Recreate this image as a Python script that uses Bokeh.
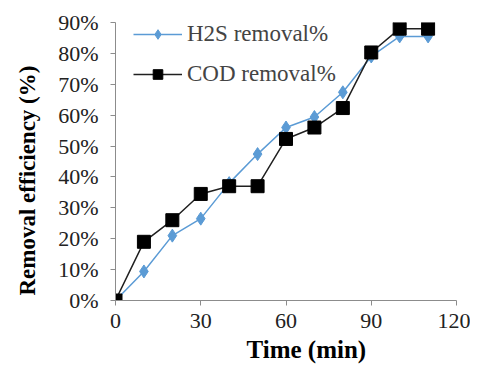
from bokeh.plotting import figure
from bokeh.models import NumeralTickFormatter, FixedTicker, Range1d, Legend, LegendItem, Title
from bokeh.embed import file_html
from bokeh.resources import INLINE

time_min = [0, 10, 20, 30, 40, 50, 60, 70, 80, 90, 100, 110]
h2s_removal = [0.0, 0.094, 0.21, 0.265, 0.38, 0.474, 0.56, 0.594, 0.674, 0.79, 0.855, 0.855]
cod_removal = [0.0, 0.19, 0.26, 0.345, 0.37, 0.37, 0.523, 0.56, 0.623, 0.803, 0.88, 0.88]
x_ticks = [0, 30, 60, 90, 120]
y_ticks = [0.0, 0.1, 0.2, 0.3, 0.4, 0.5, 0.6, 0.7, 0.8, 0.9]

p = figure(width=470, height=370, output_backend="svg", toolbar_location=None,
           x_range=Range1d(0, 120), y_range=Range1d(0, 0.9),
           min_border_left=115, min_border_right=14, min_border_top=22, min_border_bottom=70)
p.outline_line_color = None
p.grid.visible = False

h_line = p.line(time_min, h2s_removal, line_color="#5B9BD5", line_width=1.5)
h_mark = p.scatter(time_min, h2s_removal, marker="diamond", size=13, fill_color="#5B9BD5", line_color="#5B9BD5")
c_line = p.line(time_min, cod_removal, line_color="#202020", line_width=1.5)
c_mark = p.scatter(time_min, cod_removal, marker="square", size=13, fill_color="black", line_color="black")

for ax in (p.xaxis[0], p.yaxis[0]):
    ax.axis_line_color = "#8c8c8c"
    ax.major_tick_line_color = "#8c8c8c"
    ax.major_tick_out = 5
    ax.major_tick_in = 0
    ax.minor_tick_line_color = None
    ax.major_label_text_font = "Liberation Serif"
    ax.major_label_text_font_size = "22px"
    ax.major_label_text_color = "#222222"

p.xaxis.ticker = FixedTicker(ticks=x_ticks)
p.yaxis.ticker = FixedTicker(ticks=y_ticks)
p.yaxis.formatter = NumeralTickFormatter(format="0%")
p.xaxis.major_label_standoff = 8
p.yaxis.major_label_standoff = 12

xt = Title(text="Time (min)", align="left", offset=131, text_font="Liberation Serif",
           text_font_style="bold", text_font_size="25px", text_color="black", standoff=6)
p.add_layout(xt, "below")

yt = Title(text="Removal efficiency (%)", align="left", offset=5, vertical_align="top",
           text_font="Liberation Serif", text_font_style="bold", text_font_size="23px",
           text_color="black", standoff=27)
p.add_layout(yt, "left")

legend = Legend(items=[LegendItem(label="H2S removal%", renderers=[h_line, h_mark]),
                       LegendItem(label="COD removal%", renderers=[c_line, c_mark])],
                location=(18, 213), border_line_color=None, background_fill_alpha=0,
                padding=0, margin=0, glyph_width=49, glyph_height=24, label_height=24,
                label_text_font="Liberation Serif", label_text_font_size="23px",
                spacing=14, label_standoff=5)
p.add_layout(legend, "center")

open("out.html", "w").write(file_html(p, INLINE))
